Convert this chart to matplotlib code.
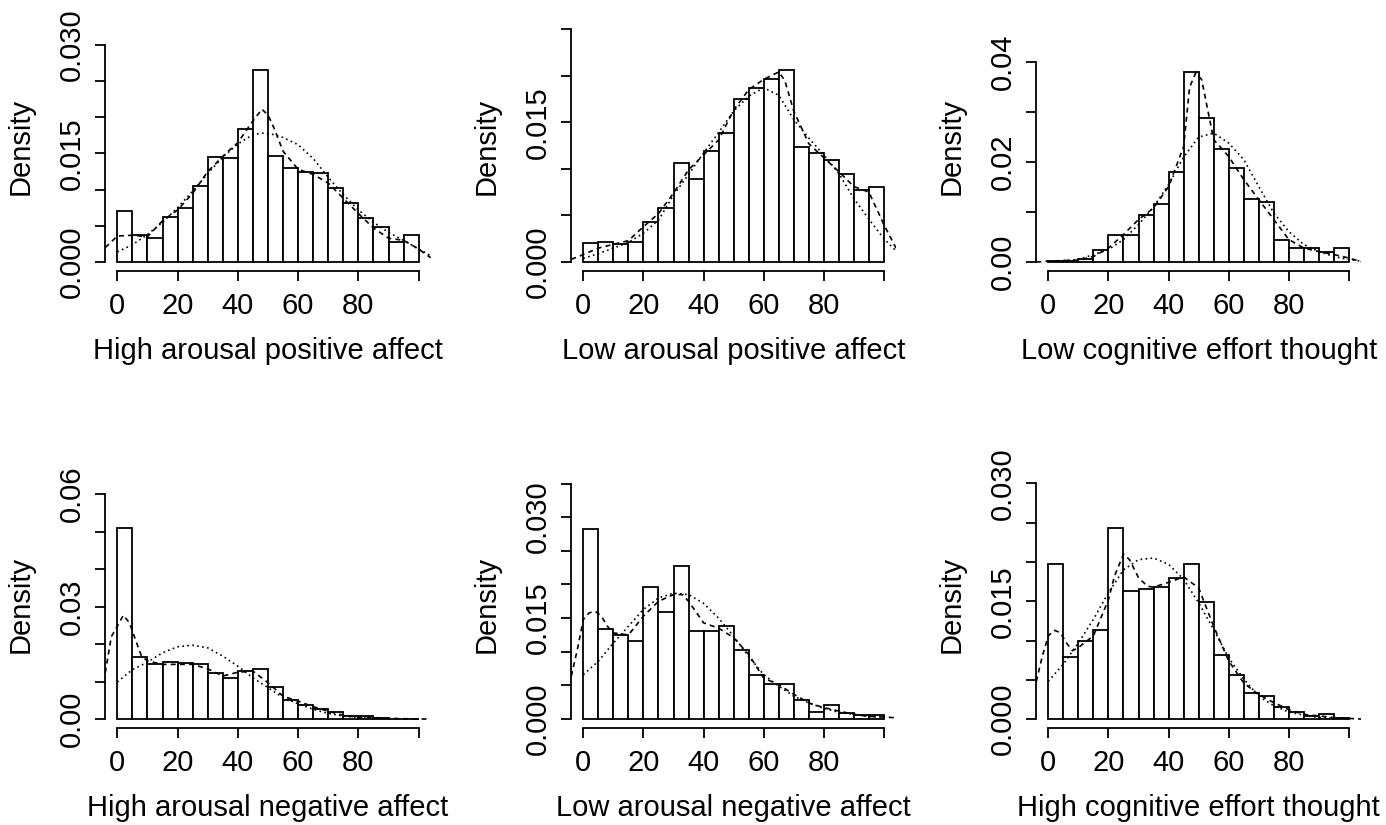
import numpy as np
import matplotlib
matplotlib.use("Agg")
import matplotlib.pyplot as plt
from matplotlib.transforms import ScaledTranslation

plt.rcParams['font.family'] = ['Liberation Sans', 'DejaVu Sans']

# histogram bins (width 5 on 0..100)
bin_edges = np.arange(0, 105, 5)

titles = ["High arousal positive affect", "Low arousal positive affect",
          "Low cognitive effort thought", "High arousal negative affect",
          "Low arousal negative affect", "High cognitive effort thought"]

# bar densities
hapa_dens = [0.00704, 0.00373, 0.00331, 0.00626, 0.00741, 0.01044, 0.01445, 0.01436, 0.0184, 0.0265,
             0.01468, 0.01298, 0.01247, 0.01224, 0.01026, 0.0081, 0.00603, 0.00479, 0.00276, 0.00377]
lapa_dens = [0.0020, 0.00218, 0.00193, 0.00214, 0.00432, 0.00579, 0.01064, 0.00893, 0.01193, 0.01389,
             0.0175, 0.01864, 0.01964, 0.02057, 0.01236, 0.01171, 0.01093, 0.0095, 0.00771, 0.00807]
lcet_dens = [0.00027, 0.00027, 0.00053, 0.00233, 0.00547, 0.00547, 0.0094, 0.0116, 0.018, 0.03807,
             0.02887, 0.02267, 0.01887, 0.0126, 0.012, 0.00447, 0.0028, 0.00273, 0.002, 0.00273]
hana_dens = [0.0510, 0.01662, 0.01458, 0.01511, 0.01502, 0.01476, 0.01227, 0.01084, 0.01271, 0.01324,
             0.00844, 0.00507, 0.00364, 0.00276, 0.00178, 0.00089, 0.00071, 0.00036, 0.0001, 0.0]
lana_dens = [0.02831, 0.01344, 0.01245, 0.01166, 0.01957, 0.01586, 0.02273, 0.01314, 0.01314, 0.01378,
             0.01028, 0.00657, 0.00514, 0.00524, 0.00277, 0.00099, 0.00203, 0.00094, 0.00054, 0.00059]
hcet_dens = [0.01978, 0.00794, 0.00993, 0.01133, 0.02436, 0.01634, 0.0166, 0.01681, 0.018, 0.01974,
             0.01494, 0.00815, 0.00565, 0.00331, 0.00293, 0.00157, 0.00089, 0.00038, 0.00059, 0.00013]

# dashed curves (kernel density)
hapa_kde_x = [-4, 0, 5, 10, 15, 20, 25, 30, 35, 40, 45, 48, 50, 52, 55, 60, 65, 70, 75, 80, 85, 90, 95, 100, 104]
hapa_kde_y = [0.002, 0.0036, 0.0037, 0.0035, 0.0057, 0.0072, 0.0095, 0.0125, 0.0146, 0.0165, 0.0195, 0.0211,
              0.0203, 0.0185, 0.0153, 0.0128, 0.0121, 0.0109, 0.0088, 0.0067, 0.0047, 0.0033, 0.003, 0.0018, 0.0006]
lapa_kde_x = [-4, 0, 5, 10, 15, 20, 25, 30, 35, 40, 45, 50, 55, 60, 65, 67, 70, 75, 80, 85, 90, 95, 100, 104]
lapa_kde_y = [0.0003, 0.0008, 0.0015, 0.0019, 0.0023, 0.0038, 0.0052, 0.0074, 0.0099, 0.0115, 0.0131, 0.0163,
              0.0185, 0.0196, 0.0204, 0.0195, 0.0162, 0.0127, 0.0112, 0.0097, 0.0081, 0.0075, 0.0040, 0.0015]
lcet_kde_x = [-4, 0, 10, 15, 20, 25, 30, 35, 40, 45, 47, 49, 51, 53, 55, 60, 65, 70, 75, 80, 85, 90, 95, 100, 104]
lcet_kde_y = [0.0, 0.0002, 0.0004, 0.0011, 0.0028, 0.0055, 0.0085, 0.0108, 0.0151, 0.0231, 0.035, 0.0378,
              0.0365, 0.0305, 0.0245, 0.0211, 0.0165, 0.0125, 0.0085, 0.0045, 0.0028, 0.0021, 0.0015, 0.0008, 0.0001]
hana_kde_x = [-4, -2, 0, 2, 4, 6, 8, 10, 15, 20, 25, 30, 35, 40, 45, 50, 55, 60, 65, 70, 75, 80, 85, 90, 95, 104]
hana_kde_y = [0.0124, 0.022, 0.0248, 0.0277, 0.0257, 0.0212, 0.0168, 0.0155, 0.0146, 0.0146, 0.0146, 0.0134, 0.0115,
              0.0125, 0.0128, 0.0097, 0.0061, 0.0048, 0.0033, 0.0021, 0.001, 0.0005, 0.0004, 0.0002, 0.0001, 0.0]
lana_kde_x = [-4, -2, 0, 2, 4, 6, 8, 10, 15, 20, 25, 30, 33, 35, 40, 45, 50, 55, 60, 65, 70, 75, 80, 85, 90, 95, 100, 104]
lana_kde_y = [0.0064, 0.0103, 0.0148, 0.0158, 0.016, 0.0153, 0.0138, 0.0128, 0.0125, 0.0153, 0.0175, 0.0185, 0.0185,
              0.0175, 0.0143, 0.0135, 0.0121, 0.0096, 0.0061, 0.0051, 0.0037, 0.0024, 0.0017, 0.0012, 0.0007, 0.0004,
              0.0003, 0.0002]
hcet_kde_x = [-4, -2, 0, 2, 4, 6, 8, 10, 15, 20, 22, 25, 27, 30, 33, 35, 40, 45, 50, 55, 60, 65, 70, 75, 80, 85, 90, 95, 104]
hcet_kde_y = [0.0048, 0.008, 0.0106, 0.0113, 0.011, 0.0097, 0.0087, 0.0091, 0.0106, 0.0152, 0.0182, 0.021, 0.0203,
              0.018, 0.0169, 0.0168, 0.0174, 0.0181, 0.0167, 0.0118, 0.0074, 0.0046, 0.0031, 0.0021, 0.0012, 0.0006,
              0.0004, 0.0002, 0.0]

# dotted curves (smoother fit)
hapa_fit_x = [0, 5, 10, 15, 20, 25, 30, 35, 40, 45, 48, 52, 55, 60, 65, 70, 75, 80, 85, 90, 95, 100, 104]
hapa_fit_y = [0.0014, 0.0024, 0.0038, 0.0055, 0.0075, 0.0098, 0.0122, 0.0145, 0.0163, 0.0176, 0.0178, 0.0176,
              0.0172, 0.0162, 0.0143, 0.0117, 0.0093, 0.0072, 0.0055, 0.0041, 0.003, 0.0018, 0.0009]
lapa_fit_x = [0, 5, 10, 15, 20, 25, 30, 35, 40, 45, 50, 55, 60, 65, 70, 75, 80, 85, 90, 95, 100, 104]
lapa_fit_y = [0.0004, 0.0009, 0.0015, 0.0021, 0.0031, 0.0045, 0.0072, 0.0094, 0.0117, 0.0139, 0.0162, 0.0178,
              0.0187, 0.0179, 0.0153, 0.0133, 0.0115, 0.0095, 0.0068, 0.0046, 0.0025, 0.0012]
lcet_fit_x = [0, 10, 20, 25, 30, 35, 40, 45, 50, 55, 60, 65, 70, 75, 80, 85, 90, 95, 100, 104]
lcet_fit_y = [0.0001, 0.0005, 0.0025, 0.0045, 0.0075, 0.011, 0.0155, 0.021, 0.025, 0.0258, 0.0238, 0.0205,
              0.0151, 0.0098, 0.0061, 0.0035, 0.0021, 0.0011, 0.0005, 0.0002]
hana_fit_x = [0, 5, 10, 15, 20, 25, 30, 35, 40, 45, 50, 55, 60, 65, 70, 75, 80, 85, 90]
hana_fit_y = [0.0099, 0.0132, 0.0152, 0.0177, 0.0193, 0.0197, 0.019, 0.0168, 0.0141, 0.011, 0.0084, 0.0057,
              0.0041, 0.0026, 0.0015, 0.0008, 0.0004, 0.0002, 0.0001]
lana_fit_x = [0, 5, 10, 15, 20, 25, 30, 35, 40, 45, 50, 55, 60, 65, 70, 75, 80, 85, 90, 95, 100]
lana_fit_y = [0.0066, 0.0086, 0.0113, 0.0138, 0.0163, 0.018, 0.0187, 0.0185, 0.0172, 0.015, 0.0123, 0.0093,
              0.0066, 0.0049, 0.0034, 0.0024, 0.0016, 0.001, 0.0007, 0.0004, 0.0003]
hcet_fit_x = [0, 5, 10, 15, 20, 25, 30, 35, 40, 45, 50, 55, 60, 65, 70, 75, 80, 85, 90, 95]
hcet_fit_y = [0.0048, 0.007, 0.0097, 0.0127, 0.0161, 0.019, 0.0203, 0.0205, 0.0197, 0.0178, 0.0148, 0.0114,
              0.0078, 0.0051, 0.0029, 0.0017, 0.0009, 0.0005, 0.0002, 0.0001]

densities = [hapa_dens, lapa_dens, lcet_dens, hana_dens, lana_dens, hcet_dens]
kde_curves = [(hapa_kde_x, hapa_kde_y), (lapa_kde_x, lapa_kde_y), (lcet_kde_x, lcet_kde_y),
              (hana_kde_x, hana_kde_y), (lana_kde_x, lana_kde_y), (hcet_kde_x, hcet_kde_y)]
fit_curves = [(hapa_fit_x, hapa_fit_y), (lapa_fit_x, lapa_fit_y), (lcet_fit_x, lcet_fit_y),
              (hana_fit_x, hana_fit_y), (lana_fit_x, lana_fit_y), (hcet_fit_x, hcet_fit_y)]

# y axis settings per panel: plot max, tick step, last tick, labelled ticks, format
y_max = [0.03187, 0.02477, 0.04617, 0.0614, 0.0342, 0.0293]
y_step = [0.005, 0.005, 0.01, 0.01, 0.005, 0.005]
y_top = [0.030, 0.025, 0.04, 0.06, 0.035, 0.030]
y_labelled = [[0, 0.015, 0.030], [0, 0.015], [0, 0.02, 0.04],
              [0, 0.03, 0.06], [0, 0.015, 0.030], [0, 0.015, 0.030]]
y_fmt = ['%.3f', '%.3f', '%.2f', '%.2f', '%.3f', '%.3f']
x_ticks = [0, 20, 40, 60, 80, 100]
x_ticklabels = ['0', '20', '40', '60', '80', '']

W, H = 1386, 825
fig = plt.figure(figsize=(W / 100, H / 100), dpi=100)

# panel boxes in pixels: left, top, right, bottom
col_lr = [(105.3, 430.7), (571.3, 896.0), (1036.3, 1361.0)]
row_tb = [(22.0, 271.3), (479.7, 728.3)]

FS = 21
LW = 1.3


def off(ax_trans, dx, dy):
    return ax_trans + ScaledTranslation(dx / 100, dy / 100, fig.dpi_scale_trans)


for i in range(6):
    l, r = col_lr[i % 3]
    t, b = row_tb[i // 3]
    ax = fig.add_axes([l / W, 1 - b / H, (r - l) / W, (b - t) / H])

    ax.bar(bin_edges[:-1], densities[i], width=5, align='edge', color='white',
           edgecolor='black', linewidth=LW, zorder=2)
    kx, ky = kde_curves[i]
    ax.plot(kx, ky, color='black', linewidth=1.2, linestyle=(0, (3, 2.5)), zorder=3)
    fx, fy = fit_curves[i]
    ax.plot(fx, fy, color='black', linewidth=1.2, linestyle=(0, (1, 2)), zorder=3)

    ax.set_xlim(-4, 104)
    ax.set_ylim(-0.04 * y_max[i], 1.04 * y_max[i])

    for s in ['top', 'right']:
        ax.spines[s].set_visible(False)
    ax.spines['left'].set_bounds(0, y_top[i])
    ax.spines['bottom'].set_bounds(0, 100)
    ax.spines['left'].set_linewidth(LW)
    ax.spines['bottom'].set_linewidth(LW)

    yt = np.arange(0, y_top[i] + y_step[i] / 2, y_step[i])
    ax.set_yticks(yt)
    ax.set_xticks(x_ticks)
    ax.tick_params(length=7.5, width=LW, direction='out',
                   labelleft=False, labelbottom=False)

    # tick labels, R style (y labels parallel to the axis)
    ytr = off(ax.get_yaxis_transform(), -25.3, 0)
    for v in y_labelled[i]:
        ax.text(0, v, y_fmt[i] % v, transform=ytr, rotation=90, rotation_mode='anchor',
                ha='center', va='baseline', fontsize=FS)
    xtr = off(ax.get_xaxis_transform(), 0, -42.5)
    for v, s in zip(x_ticks, x_ticklabels):
        if s:
            ax.text(v, 0, s, transform=xtr, ha='center', va='baseline', fontsize=FS)

    ax.text(0.5, 0, titles[i], transform=off(ax.transAxes, 0, -88),
            ha='center', va='baseline', fontsize=FS)
    ax.text(0, 0.5, 'Density', transform=off(ax.transAxes, -77, 0), rotation=90,
            rotation_mode='anchor', ha='center', va='baseline', fontsize=FS)

fig.savefig('out.png', dpi=100)
